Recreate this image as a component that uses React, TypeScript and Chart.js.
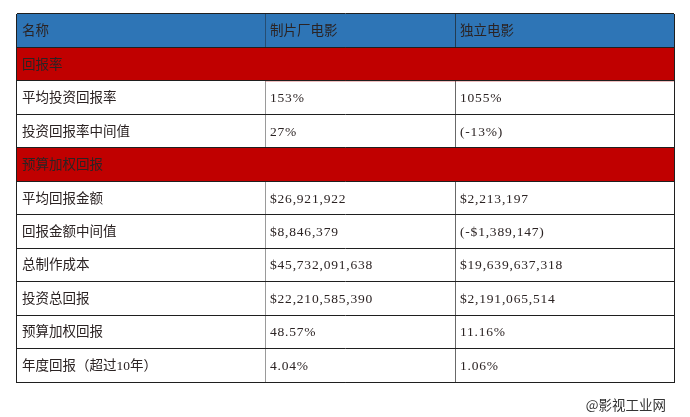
import React, { useEffect, useRef } from "react";
import { Chart, registerables } from "chart.js";

Chart.register(...registerables);

// ---- data ----
const columnHeaders = ["名称", "制片厂电影", "独立电影"];
const rowLabels = [
  "回报率",
  "平均投资回报率",
  "投资回报率中间值",
  "预算加权回报",
  "平均回报金额",
  "回报金额中间值",
  "总制作成本",
  "投资总回报",
  "预算加权回报",
  "年度回报（超过10年）",
];
const sectionRows = [true, false, false, true, false, false, false, false, false, false];
const studioValues = ["", "153%", "27%", "", "$26,921,922", "$8,846,379", "$45,732,091,638", "$22,210,585,390", "48.57%", "4.04%"];
const indieValues = ["", "1055%", "(-13%)", "", "$2,213,197", "(-$1,389,147)", "$19,639,637,318", "$2,191,065,514", "11.16%", "1.06%"];
const watermark = "@影视工业网";

// ---- layout / style ----
const COL_EDGES = [0, 249, 439, 658];
const FILL: Record<string, string> = { header: "#2E75B6", section: "#C00000", body: "#FFFFFF" };
const LINE = "#1f1f1f";
const TEXT = "#2b2323";
const FONT = '13.5px "Liberation Serif", "Noto Sans CJK SC"';

export default function App() {
  const ref = useRef<HTMLCanvasElement | null>(null);

  useEffect(() => {
    if (!ref.current) return;
    const allLabels = [columnHeaders[0], ...rowLabels];
    const kinds = ["header", ...sectionRows.map((s) => (s ? "section" : "body"))];
    const col2 = [columnHeaders[1], ...studioValues];
    const col3 = [columnHeaders[2], ...indieValues];

    const bg = (ctx: any) => FILL[kinds[ctx.dataIndex]] || "#fff";

    const textPlugin = {
      id: "tableText",
      afterDraw(chart: any) {
        const { ctx, scales } = chart;
        const xs = scales.x;
        const ys = scales.y;
        ctx.save();
        ctx.font = FONT;
        ctx.fillStyle = TEXT;
        ctx.textBaseline = "middle";
        ctx.textAlign = "left";
        allLabels.forEach((lab, i) => {
          const y = ys.getPixelForValue(i) + 1;
          ctx.letterSpacing = "0px";
          ctx.fillText(lab, xs.getPixelForValue(COL_EDGES[0]) + 6, y);
          if (kinds[i] !== "section") {
            ctx.letterSpacing = i === 0 ? "0px" : "0.8px";
            ctx.fillText(col2[i], xs.getPixelForValue(COL_EDGES[1]) + 5, y);
            ctx.fillText(col3[i], xs.getPixelForValue(COL_EDGES[2]) + 5, y);
          }
        });
        ctx.letterSpacing = "0px";
        // watermark
        ctx.font = '13.5px "Noto Sans CJK SC"';
        ctx.textAlign = "right";
        ctx.lineWidth = 3;
        ctx.strokeStyle = "#ffffff";
        ctx.strokeText(watermark, 666, 405);
        ctx.fillStyle = "#333333";
        ctx.fillText(watermark, 666, 405);
        ctx.restore();
      },
    };

    const common = {
      barPercentage: 1,
      categoryPercentage: 1,
      grouped: false,
      borderSkipped: false,
      borderColor: LINE,
      backgroundColor: bg,
    };

    const chart = new Chart(ref.current, {
      type: "bar",
      data: {
        labels: allLabels,
        datasets: [
          {
            ...common,
            label: columnHeaders[0],
            data: kinds.map((k) => (k === "section" ? [COL_EDGES[0], COL_EDGES[3]] : [COL_EDGES[0], COL_EDGES[1]])),
            borderWidth: 0,
          },
          {
            ...common,
            label: columnHeaders[1],
            data: kinds.map((k) => (k === "section" ? null : [COL_EDGES[1], COL_EDGES[2]])),
            borderWidth: { left: 1, top: 0, right: 0, bottom: 0 },
          },
          {
            ...common,
            label: columnHeaders[2],
            data: kinds.map((k) => (k === "section" ? null : [COL_EDGES[2], COL_EDGES[3]])),
            borderWidth: { left: 1, top: 0, right: 0, bottom: 0 },
          },
        ] as any,
      },
      options: {
        indexAxis: "y",
        responsive: false,
        animation: false,
        events: [],
        layout: { padding: { left: 16, top: 14, right: 16, bottom: 35 } },
        plugins: { legend: { display: false }, tooltip: { enabled: false } },
        scales: {
          x: {
            type: "linear",
            min: COL_EDGES[0],
            max: COL_EDGES[3],
            afterBuildTicks: (s: any) => {
              s.ticks = [{ value: COL_EDGES[0] }, { value: COL_EDGES[3] }];
            },
            ticks: { display: false },
            grid: { display: true, color: LINE, drawTicks: false, lineWidth: 1, z: 1 },
            border: { display: true, color: LINE, z: 1 },
          },
          y: {
            type: "category",
            offset: true,
            ticks: { display: false },
            grid: { offset: true, drawTicks: false, color: LINE, lineWidth: 1, z: 1 },
            border: { display: true, color: LINE, z: 1 },
          },
        },
      } as any,
      plugins: [textPlugin],
    });
    return () => chart.destroy();
  }, []);

  return (
    <div style={{ position: "absolute", left: 0, top: 0, width: 690, height: 417, background: "#fff" }}>
      <canvas ref={ref} width={690} height={417} />
    </div>
  );
}
